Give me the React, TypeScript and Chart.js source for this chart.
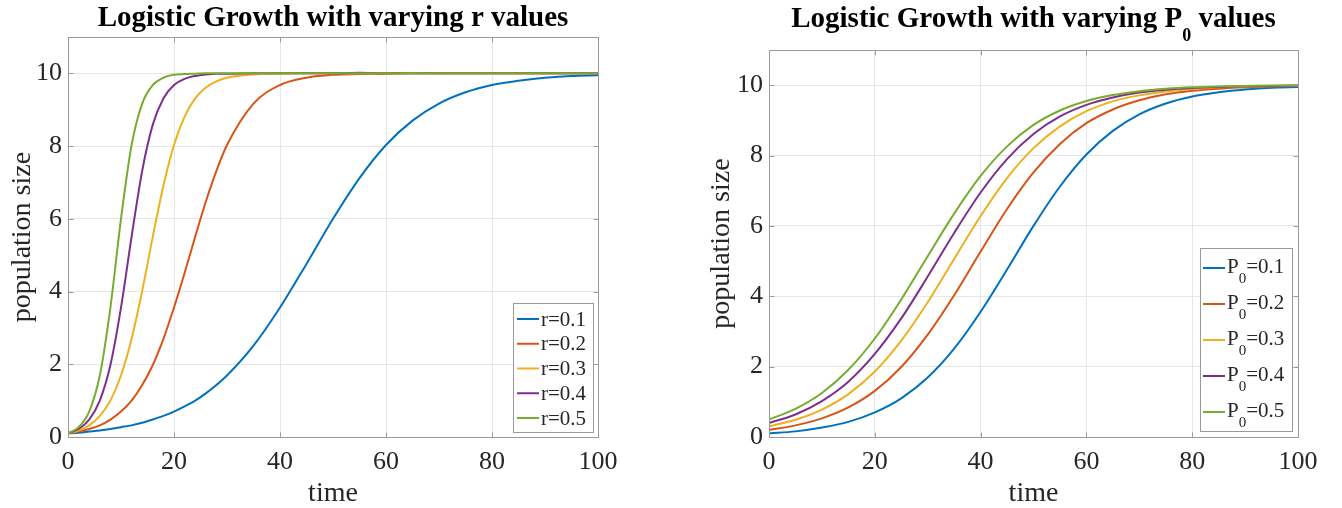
import React, { useEffect, useRef } from "react";
import { Chart, registerables } from "chart.js";

Chart.register(...registerables);

// ---- data ----------------------------------------------------------------
const seriesColors = ["#0072BD", "#D95319", "#EDB120", "#7E2F8E", "#77AC30"];
const xTicks = [0, 20, 40, 60, 80, 100];
const yTicks = [0, 2, 4, 6, 8, 10];

// left panel: growth rate r varies (P0 = 0.1, K = 10)
const timeR = [0, 2, 4, 6, 8, 10, 12, 14, 16, 18, 20, 22, 24, 26, 28, 30, 35, 40, 45, 50, 55, 60, 65, 70, 75, 80, 85, 90, 95, 100];
const rLabels = ["0.1", "0.2", "0.3", "0.4", "0.5"];
const r01 = [0.10, 0.12, 0.15, 0.18, 0.22, 0.27, 0.32, 0.39, 0.48, 0.58, 0.70, 0.84, 1.00, 1.20, 1.43, 1.69, 2.51, 3.56, 4.76, 6.00, 7.12, 8.03, 8.70, 9.17, 9.48, 9.68, 9.80, 9.88, 9.93, 9.95];
const r02 = [0.10, 0.15, 0.22, 0.32, 0.48, 0.70, 1.00, 1.43, 1.98, 2.70, 3.56, 4.51, 5.51, 6.47, 7.32, 8.03, 9.17, 9.68, 9.88, 9.96, 9.98, 9.99, 10, 10, 10, 10, 10, 10, 10, 10];
const r03 = [0.10, 0.18, 0.32, 0.58, 1.00, 1.69, 2.70, 4.02, 5.51, 6.91, 8.03, 8.81, 9.31, 9.61, 9.78, 9.88, 9.97, 9.99, 10, 10, 10, 10, 10, 10, 10, 10, 10, 10, 10, 10];
const r04 = [0.10, 0.22, 0.48, 1.00, 1.98, 3.56, 5.51, 7.32, 8.59, 9.31, 9.68, 9.85, 9.93, 9.97, 9.99, 9.99, 10, 10, 10, 10, 10.02, 10, 10, 10, 10, 10, 10, 10, 10, 10];
const r05 = [0.10, 0.27, 0.70, 1.69, 3.56, 6.00, 8.03, 9.17, 9.68, 9.88, 9.96, 9.98, 9.99, 10, 10, 10, 10, 10, 10, 10, 10, 10, 10.01, 10, 10, 10, 10, 10, 10, 10];

// right panel: initial population P0 varies (r = 0.1, K = 10)
const timeP = [0, 5, 10, 15, 20, 25, 30, 35, 40, 45, 50, 55, 60, 65, 70, 75, 80, 85, 90, 95, 100];
const pLabels = ["0.1", "0.2", "0.3", "0.4", "0.5"];
const p01 = [0.10, 0.16, 0.27, 0.43, 0.70, 1.10, 1.69, 2.51, 3.56, 4.76, 6.00, 7.12, 8.03, 8.70, 9.17, 9.48, 9.68, 9.80, 9.88, 9.93, 9.95];
const p02 = [0.20, 0.33, 0.53, 0.84, 1.31, 1.99, 2.91, 4.03, 5.27, 6.48, 7.52, 8.33, 8.92, 9.31, 9.57, 9.74, 9.84, 9.90, 9.94, 9.96, 9.98];
const p03 = [0.30, 0.49, 0.78, 1.22, 1.86, 2.74, 3.83, 5.06, 6.28, 7.36, 8.21, 8.83, 9.26, 9.54, 9.71, 9.82, 9.89, 9.94, 9.96, 9.98, 9.99];
const p04 = [0.40, 0.64, 1.02, 1.57, 2.36, 3.37, 4.56, 5.80, 6.95, 7.90, 8.61, 9.11, 9.44, 9.65, 9.79, 9.87, 9.92, 9.95, 9.97, 9.98, 9.99];
const p05 = [0.50, 0.80, 1.25, 1.91, 2.80, 3.91, 5.14, 6.35, 7.42, 8.26, 8.87, 9.28, 9.55, 9.72, 9.83, 9.90, 9.94, 9.96, 9.98, 9.99, 9.99];

// ---- styling ---------------------------------------------------------------
const SERIF = "'Liberation Serif', 'Times New Roman', serif";
const TEXT = "#262626";
const GRID = "#e6e6e6";
const FRAME = "#9a9a9a";
const CANVAS_W = 671;
const CANVAS_H = 508;

type Part = { text: string; sub?: boolean };

type PanelCfg = {
  title: Part[];
  titleBaseline: number;
  time: number[];
  series: number[][];
  legendParts: (value: string) => Part[];
  legendValues: string[];
  padTop: number;
  padRight: number;
  yAxisWidth: number;
  yLabelX: number;
  legend: {
    x: number; y: number; w: number; h: number;
    row0: number; rowStep: number;
    lineX0: number; lineX1: number; textX: number;
    font: number; subFont: number; baseDy: number; subDy: number;
  };
};

function partsWidth(ctx: CanvasRenderingContext2D, parts: Part[], font: string, subFont: string) {
  let w = 0;
  for (const p of parts) {
    ctx.font = p.sub ? subFont : font;
    w += ctx.measureText(p.text).width;
  }
  return w;
}

function drawParts(
  ctx: CanvasRenderingContext2D, parts: Part[], x: number, y: number,
  font: string, subFont: string, subDy: number
) {
  let cx = x;
  ctx.textAlign = "left";
  ctx.textBaseline = "alphabetic";
  for (const p of parts) {
    ctx.font = p.sub ? subFont : font;
    ctx.fillText(p.text, cx, p.sub ? y + subDy : y);
    cx += ctx.measureText(p.text).width;
  }
}

function decorPlugin(cfg: PanelCfg) {
  return {
    id: "panelDecor",
    afterDraw(chart: any) {
      const ctx: CanvasRenderingContext2D = chart.ctx;
      const area = chart.chartArea;
      const xs = chart.scales.x;
      const ys = chart.scales.y;
      const L = Math.round(area.left) + 0.5;
      const R = Math.round(area.right) + 0.5;
      const T = Math.round(area.top) + 0.5;
      const B = Math.round(area.bottom) + 0.5;
      ctx.save();

      // frame and inward tick marks on all four sides
      ctx.strokeStyle = FRAME;
      ctx.lineWidth = 1;
      ctx.strokeRect(L, T, R - L, B - T);
      ctx.beginPath();
      const tl = 5;
      for (const v of xTicks) {
        const px = Math.round(xs.getPixelForValue(v)) + 0.5;
        ctx.moveTo(px, B); ctx.lineTo(px, B - tl);
        ctx.moveTo(px, T); ctx.lineTo(px, T + tl);
      }
      for (const v of yTicks) {
        const py = Math.round(ys.getPixelForValue(v)) + 0.5;
        ctx.moveTo(L, py); ctx.lineTo(L + tl, py);
        ctx.moveTo(R, py); ctx.lineTo(R - tl, py);
      }
      ctx.stroke();

      ctx.fillStyle = "#000";
      // title
      const tFont = `bold 29px ${SERIF}`;
      const tSub = `bold 18px ${SERIF}`;
      const tw = partsWidth(ctx, cfg.title, tFont, tSub);
      const cx = (area.left + area.right) / 2;
      drawParts(ctx, cfg.title, cx - tw / 2, cfg.titleBaseline, tFont, tSub, 14.5);

      // axis titles
      ctx.fillStyle = TEXT;
      ctx.font = `28px ${SERIF}`;
      ctx.textAlign = "center";
      ctx.textBaseline = "alphabetic";
      ctx.fillText("time", cx, 501);
      ctx.save();
      ctx.translate(cfg.yLabelX, (area.top + area.bottom) / 2);
      ctx.rotate(-Math.PI / 2);
      ctx.textBaseline = "middle";
      ctx.fillText("population size", 0, 0);
      ctx.restore();

      // legend
      const lg = cfg.legend;
      ctx.fillStyle = "#fff";
      ctx.fillRect(lg.x, lg.y, lg.w, lg.h);
      ctx.strokeStyle = FRAME;
      ctx.lineWidth = 1;
      ctx.strokeRect(lg.x + 0.5, lg.y + 0.5, lg.w, lg.h);
      const lf = `${lg.font}px ${SERIF}`;
      const lsf = `${lg.subFont}px ${SERIF}`;
      cfg.legendValues.forEach((val, i) => {
        const ry = lg.row0 + i * lg.rowStep;
        ctx.strokeStyle = seriesColors[i];
        ctx.lineWidth = 2;
        ctx.beginPath();
        ctx.moveTo(lg.lineX0, ry);
        ctx.lineTo(lg.lineX1, ry);
        ctx.stroke();
        ctx.fillStyle = TEXT;
        drawParts(ctx, cfg.legendParts(val), lg.textX, ry + lg.baseDy, lf, lsf, lg.subDy);
      });
      ctx.restore();
    },
  };
}

function buildChart(canvas: HTMLCanvasElement, cfg: PanelCfg) {
  const datasets = cfg.series.map((vals, i) => ({
    label: cfg.legendValues[i],
    data: cfg.time.map((t, k) => ({ x: t, y: vals[k] })),
    borderColor: seriesColors[i],
    backgroundColor: seriesColors[i],
    borderWidth: 2,
    pointRadius: 0,
    cubicInterpolationMode: "monotone" as const,
    fill: false,
    order: cfg.series.length - 1 - i,
  }));
  const tickFont = { family: SERIF, size: 26 };
  return new Chart(canvas, {
    type: "line",
    data: { datasets },
    options: {
      responsive: false,
      animation: false,
      devicePixelRatio: 1,
      layout: { padding: { left: 0, right: cfg.padRight, top: cfg.padTop, bottom: 0 } },
      plugins: {
        legend: { display: false },
        title: { display: false },
        tooltip: { enabled: false },
      },
      scales: {
        x: {
          type: "linear",
          min: 0,
          max: 100,
          afterBuildTicks: (s: any) => { s.ticks = xTicks.map((v) => ({ value: v })); },
          afterFit: (s: any) => { s.height = 71; },
          grid: { color: GRID, lineWidth: 1, drawTicks: false },
          border: { display: false },
          ticks: { padding: 10, font: tickFont, color: TEXT, maxRotation: 0, autoSkip: false },
        },
        y: {
          type: "linear",
          min: 0,
          max: 11,
          afterBuildTicks: (s: any) => { s.ticks = yTicks.map((v) => ({ value: v })); },
          afterFit: (s: any) => { s.width = cfg.yAxisWidth; },
          grid: { color: GRID, lineWidth: 1, drawTicks: false },
          border: { display: false },
          ticks: { padding: 6, font: tickFont, color: TEXT, autoSkip: false },
        },
      },
    },
    plugins: [decorPlugin(cfg)],
  } as any);
}

const leftCfg: PanelCfg = {
  title: [{ text: "Logistic Growth with varying r values" }],
  titleBaseline: 26,
  time: timeR,
  series: [r01, r02, r03, r04, r05],
  legendValues: rLabels,
  legendParts: (v) => [{ text: `r=${v}` }],
  padTop: 37,
  padRight: 73,
  yAxisWidth: 68,
  yLabelX: 23,
  legend: {
    x: 513, y: 303, w: 80, h: 129,
    row0: 319, rowStep: 24.75,
    lineX0: 517, lineX1: 539, textX: 541,
    font: 21, subFont: 15, baseDy: 6.5, subDy: 10,
  },
};

const rightCfg: PanelCfg = {
  title: [{ text: "Logistic Growth with varying " }, { text: "P" }, { text: "0", sub: true }, { text: " values" }],
  titleBaseline: 26.5,
  time: timeP,
  series: [p01, p02, p03, p04, p05],
  legendValues: pLabels,
  legendParts: (v) => [{ text: "P" }, { text: "0", sub: true }, { text: `=${v}` }],
  padTop: 50,
  padRight: 44,
  yAxisWidth: 98,
  yLabelX: 51,
  legend: {
    x: 529, y: 248, w: 92, h: 183,
    row0: 268, rowStep: 36,
    lineX0: 532, lineX1: 554, textX: 556,
    font: 21, subFont: 15, baseDy: 5, subDy: 10,
  },
};

function Panel({ cfg, left }: { cfg: PanelCfg; left: number }) {
  const ref = useRef<HTMLCanvasElement | null>(null);
  useEffect(() => {
    if (!ref.current) return;
    const chart = buildChart(ref.current, cfg);
    return () => chart.destroy();
  }, [cfg]);
  return (
    <canvas
      ref={ref}
      width={CANVAS_W}
      height={CANVAS_H}
      style={{ position: "absolute", left, top: 0, width: CANVAS_W, height: CANVAS_H }}
    />
  );
}

export default function App() {
  return (
    <div style={{ position: "fixed", left: 0, top: 0, width: 1342, height: 508, background: "#fff" }}>
      <Panel cfg={leftCfg} left={0} />
      <Panel cfg={rightCfg} left={671} />
    </div>
  );
}
